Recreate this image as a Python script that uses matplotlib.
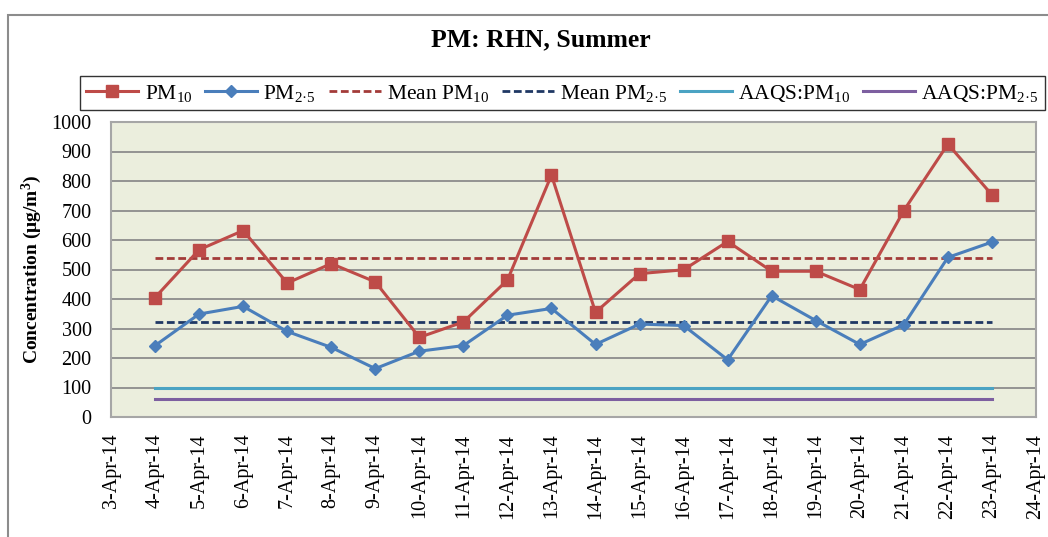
import matplotlib
matplotlib.use("Agg")
import matplotlib.pyplot as plt
import matplotlib.dates as mdates
from matplotlib.patches import Rectangle
from matplotlib.ticker import FuncFormatter, MultipleLocator
import datetime as dt

plt.rcParams['font.family'] = ['Liberation Serif', 'DejaVu Serif']
plt.rcParams['mathtext.fontset'] = 'custom'
plt.rcParams['mathtext.rm'] = 'Liberation Serif'
plt.rcParams['mathtext.it'] = 'Liberation Serif:italic'
plt.rcParams['mathtext.bf'] = 'Liberation Serif:bold'

# ---- data ----
dates = [dt.date(2014, 4, d) for d in range(4, 24)]
pm10 = [405, 567, 632, 454, 520, 458, 270, 322, 464, 820,
        355, 486, 499, 595, 494, 494, 432, 700, 925, 753]
pm25 = [242, 349, 375, 290, 236, 164, 223, 242, 345, 368,
        246, 315, 310, 194, 411, 327, 246, 313, 541, 593]
mean_pm10 = 539
mean_pm25 = 323
aaqs_pm10 = 100
aaqs_pm25 = 60
x_start = dt.date(2014, 4, 3)
x_end = dt.date(2014, 4, 24)

title = "PM: RHN, Summer"
ylabel = r"Concentration (μg/m$^{\mathregular{3}}$)"
labels = [r"PM$_{\mathregular{10}}$", r"PM$_{\mathregular{2·5}}$",
          r"Mean PM$_{\mathregular{10}}$", r"Mean PM$_{\mathregular{2·5}}$",
          r"AAQS:PM$_{\mathregular{10}}$", r"AAQS:PM$_{\mathregular{2·5}}$"]

fig = plt.figure(figsize=(10.48, 5.37), dpi=100)
ax = fig.add_axes([111/1048, 1-417/537, (1036-111)/1048, (417-122)/537])
ax.set_facecolor('#EBEEDD')

ax.plot(dates, pm10, color='#BE4B48', lw=2.2, marker='s', ms=8.5, label=labels[0], zorder=5)
ax.plot(dates, pm25, color='#4A7EBB', lw=2.2, marker='D', ms=6, label=labels[1], zorder=5)
ax.plot([dates[0], dates[-1]], [mean_pm10]*2, color='#A33B39', lw=2, ls=(0, (2.8, 1.3)), label=labels[2], zorder=4)
ax.plot([dates[0], dates[-1]], [mean_pm25]*2, color='#1F3864', lw=2, ls=(0, (2.8, 1.3)), label=labels[3], zorder=4)
ax.plot([dates[0], dates[-1]], [aaqs_pm10]*2, color='#4BA3C3', lw=2.2, label=labels[4], zorder=4)
ax.plot([dates[0], dates[-1]], [aaqs_pm25]*2, color='#7D5FA0', lw=2.2, label=labels[5], zorder=4)

ax.set_xlim(x_start, x_end)
ax.set_ylim(0, 1000)
ax.yaxis.set_major_locator(MultipleLocator(100))
ax.xaxis.set_major_locator(mdates.DayLocator())
ax.xaxis.set_major_formatter(FuncFormatter(
    lambda v, p: (lambda d: f"{d.day}-{d:%b-%y}")(mdates.num2date(v))))
ax.grid(axis='y', color='#8C8C8C', lw=1.3)
ax.set_axisbelow(True)
for s in ax.spines.values():
    s.set_color('#A6A6A6')
    s.set_linewidth(1.5)
ax.tick_params(axis='both', length=0, labelsize=14.5)
ax.tick_params(axis='y', pad=14)
ax.tick_params(axis='x', pad=12)
for t in ax.get_xticklabels():
    t.set_rotation(90)

ax.set_ylabel(ylabel, fontsize=14, fontweight='bold', labelpad=5)
fig.text(541/1048, 1-40/537, title, ha='center', va='center', fontsize=18.5, fontweight='bold')

leg = fig.legend(loc='lower left', bbox_to_anchor=(80/1048, 1-110/537, 965/1048, 42/537),
                 mode='expand', ncol=6, fontsize=15.5, frameon=True, fancybox=False,
                 edgecolor='black', handlelength=2.4, handletextpad=0.3,
                 borderaxespad=0, borderpad=0.3, columnspacing=0.6)
leg.get_frame().set_linewidth(1.0)

fig.patches.append(Rectangle((8/1048, -0.5), 1.5, 1.5 - 15/537, transform=fig.transFigure,
                             fill=False, edgecolor='#8C8C8C', lw=1.5))

fig.savefig('out.png', dpi=100)
